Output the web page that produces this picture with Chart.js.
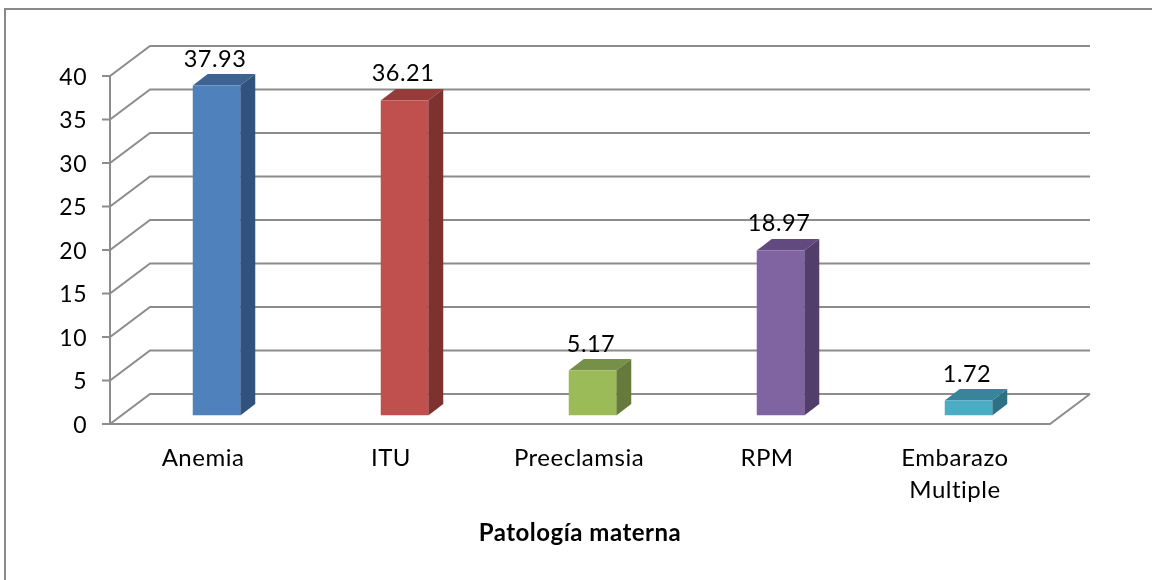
<!DOCTYPE html>
<html><head><meta charset="utf-8">
<style>html,body{margin:0;padding:0;background:#fff}#w{position:relative;width:1152px;height:580px}canvas{display:block}</style>
<script src="https://cdn.jsdelivr.net/npm/chart.js@4/dist/chart.umd.js"></script>
</head><body><div id="w"><canvas id="c" width="1152" height="580"></canvas></div>
<script>
const categories = ["Anemia","ITU","Preeclamsia","RPM",["Embarazo","Multiple"]];
const values = [37.93,36.21,5.17,18.97,1.72];
const frontColors = ["#4f81bd","#c0504d","#9bbb59","#8064a2","#4bacc6"];
const topColors = ["#3c6393","#953c3a","#779047","#62497f","#38859b"];
const sideColors = ["#30527d","#7e3230","#657a3b","#523d6b","#2f7184"];
const axisTitle = "Patología materna";
const FONT = "Lato, Carlito, sans-serif";
const GRID = "#8c8c8c";
const DEPTH = {x:40, y:-30};
const BAR = {dx:12.5, dy:-8.5, sx:15, sy:-11.5};

const frame = {id:"frame", beforeDraw(ch){
  const c=ch.ctx;
  c.letterSpacing="0.5px";
  c.save(); c.fillStyle="#fff"; c.fillRect(0,0,1152,580);
  c.strokeStyle="#8a8a8a"; c.lineWidth=2;
  c.beginPath(); c.moveTo(5,580); c.lineTo(5,9); c.lineTo(1152,9); c.stroke();
  c.restore();
}};
const walls = {id:"walls", beforeDatasetsDraw(ch){
  const c=ch.ctx,y=ch.scales.y,a=ch.chartArea;
  c.save(); c.strokeStyle=GRID; c.lineWidth=2; c.lineCap="butt";
  for(let v=0;v<=40;v+=5){
    const p=y.getPixelForValue(v);
    c.beginPath(); c.moveTo(a.left-8,p); c.lineTo(a.left,p); c.lineTo(a.left+DEPTH.x,p+DEPTH.y); c.lineTo(a.right+DEPTH.x,p+DEPTH.y); c.stroke();
  }
  const p0=y.getPixelForValue(0), p40=y.getPixelForValue(40);
  c.beginPath(); c.moveTo(a.left,p40); c.lineTo(a.left,p0); c.lineTo(a.right,p0); c.lineTo(a.right+DEPTH.x,p0+DEPTH.y); c.stroke();
  c.restore();
}};
const bars3d = {id:"bars3d",
  beforeDatasetsDraw(ch){
    const c=ch.ctx; c.save(); c.translate(BAR.dx,BAR.dy);
    ch.getDatasetMeta(0).data.forEach((b,i)=>{
      const l=b.x-b.width/2,r=b.x+b.width/2,t=b.y,bt=b.base;
      c.fillStyle=topColors[i]; c.beginPath(); c.moveTo(l,t); c.lineTo(l+BAR.sx,t+BAR.sy); c.lineTo(r+BAR.sx,t+BAR.sy); c.lineTo(r,t); c.closePath(); c.fill();
      c.fillStyle=sideColors[i]; c.beginPath(); c.moveTo(r,t); c.lineTo(r+BAR.sx,t+BAR.sy); c.lineTo(r+BAR.sx,bt+BAR.sy); c.lineTo(r,bt); c.closePath(); c.fill();
    });
  },
  afterDatasetsDraw(ch){
    const c=ch.ctx; c.restore(); c.save();
    c.font="23.5px "+FONT; c.fillStyle="#000"; c.textAlign="center"; c.textBaseline="alphabetic";
    ch.getDatasetMeta(0).data.forEach((b,i)=>{
      c.fillText(values[i].toFixed(2), b.x+BAR.dx-1.5, b.y+BAR.dy-19);
    });
    c.restore();
  }
};
new Chart(document.getElementById("c"),{
  type:"bar",
  data:{labels:categories,datasets:[{data:values,backgroundColor:frontColors,borderWidth:0,barPercentage:0.2527,categoryPercentage:1}]},
  plugins:[frame,walls,bars3d],
  options:{
    responsive:false,animation:false,
    layout:{padding:{top:76,right:102,left:0,bottom:0}},
    plugins:{legend:{display:false},tooltip:{enabled:false}},
    scales:{
      x:{
        afterFit(s){s.height=156},
        grid:{display:false},border:{display:false},
        ticks:{color:"#000",font:{family:FONT,size:24,lineHeight:1.33},padding:10,labelOffset:-1,maxRotation:0,autoSkip:false},
        title:{display:true,text:axisTitle,color:"#000",font:{family:FONT,size:24,weight:"bold"},padding:{top:14,bottom:32}}
      },
      y:{
        min:0,max:40,
        afterFit(s){s.width=110},
        grid:{display:false},border:{display:false},
        ticks:{stepSize:5,color:"#000",font:{family:FONT,size:23},padding:15,labelOffset:1.5}
      }
    }
  }
});
</script></body></html>
